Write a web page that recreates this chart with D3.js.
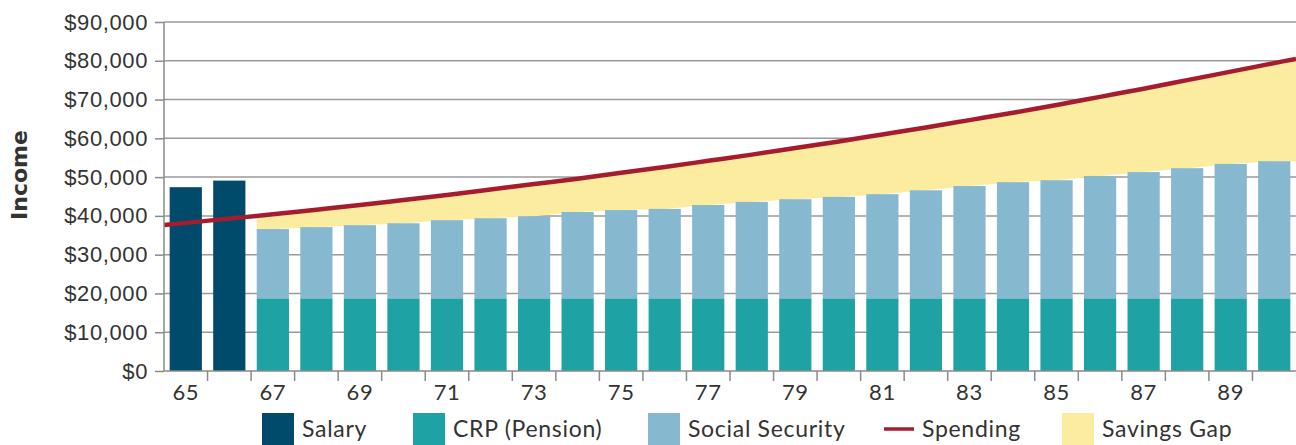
<!DOCTYPE html>
<html>
<head>
<meta charset="utf-8">
<script src="https://cdn.jsdelivr.net/npm/d3@7"></script>
<style>
  body { margin: 0; background: #fff; }
  svg { display: block; font-family: Lato, "Open Sans", sans-serif; }
  .tick text { fill: #333; }
</style>
</head>
<body>
<svg id="chart" width="1296" height="445"></svg>
<script>
var ages = [65, 66, 67, 68, 69, 70, 71, 72, 73, 74, 75, 76, 77, 78, 79, 80, 81, 82, 83, 84, 85, 86, 87, 88, 89, 90];
var salary = [47400, 49100, 0, 0, 0, 0, 0, 0, 0, 0, 0, 0, 0, 0, 0, 0, 0, 0, 0, 0, 0, 0, 0, 0, 0, 0];
var pension = [0, 0, 18700, 18700, 18700, 18700, 18700, 18700, 18700, 18700, 18700, 18700, 18700,
               18700, 18700, 18700, 18700, 18700, 18700, 18700, 18700, 18700, 18700, 18700, 18700, 18700];
var incomeTotal = [0, 0, 36600, 37100, 37600, 38100, 38900, 39400, 39900, 41000, 41500, 41800, 42800,
                   43600, 44300, 44900, 45600, 46600, 47700, 48700, 49200, 50300, 51300, 52300, 53400, 54100];
var spending = [38200, 39300, 40400, 41600, 42800, 44100, 45400, 46800, 48200, 49600, 51100, 52600, 54200,
                55800, 57500, 59200, 61000, 62800, 64700, 66600, 68600, 70700, 72800, 75000, 77200, 79400];
var yTicks = [0, 10000, 20000, 30000, 40000, 50000, 60000, 70000, 80000, 90000];
var legendItems = [
  { name: "Salary", color: "#004b6b", type: "box", x: 262 },
  { name: "CRP (Pension)", color: "#1fa2a3", type: "box", x: 413 },
  { name: "Social Security", color: "#86b9cf", type: "box", x: 648 },
  { name: "Spending", color: "#a61c2f", type: "line", x: 882 },
  { name: "Savings Gap", color: "#fcec9f", type: "box", x: 1062 }
];

var svg = d3.select("#chart"),
    margin = { top: 22, right: 0, bottom: 74, left: 164 },
    width = 1296 - margin.left - margin.right,
    height = 445 - margin.top - margin.bottom;

var g = svg.append("g").attr("transform", "translate(" + margin.left + "," + margin.top + ")");

var x = d3.scaleBand().domain(ages).range([0, width]).paddingInner(0.26).paddingOuter(0.13);
var y = d3.scaleLinear().domain([0, 90000]).range([height, 0]);

// gridlines
g.append("g")
  .selectAll("line")
  .data(yTicks.slice(1))
  .enter()
  .append("line")
    .attr("x1", 0)
    .attr("x2", width)
    .attr("y1", function (d) { return y(d); })
    .attr("y2", function (d) { return y(d); })
    .attr("stroke", "#9a9a9a")
    .attr("stroke-width", 1.5);

var cx = function (i) { return x(ages[i]) + x.bandwidth() / 2; };
var step = x.step();

// savings gap area, from the left edge of the first pension bar to the right edge
var gap = [];
ages.forEach(function (a, i) {
  if (incomeTotal[i] > 0) gap.push({ px: cx(i), lo: incomeTotal[i], hi: spending[i] });
});
var last = spending.length - 1;
gap.unshift({ px: x(ages[2]), lo: incomeTotal[2], hi: spending[2] - (spending[3] - spending[2]) * (x.bandwidth() / 2) / step });
gap.push({ px: width, lo: incomeTotal[last],
           hi: spending[last] + (spending[last] - spending[last - 1]) * (width - cx(last)) / step });

g.append("path")
  .datum(gap)
  .attr("fill", "#fcec9f")
  .attr("d", d3.area()
    .x(function (d) { return d.px; })
    .y0(function (d) { return y(d.lo); })
    .y1(function (d) { return y(d.hi); }));

// bars
var bars = g.append("g");
ages.forEach(function (a, i) {
  if (salary[i] > 0) {
    bars.append("rect").attr("x", x(a)).attr("width", x.bandwidth())
      .attr("y", y(salary[i])).attr("height", y(0) - y(salary[i])).attr("fill", "#004b6b");
  }
  if (incomeTotal[i] > 0) {
    bars.append("rect").attr("x", x(a)).attr("width", x.bandwidth())
      .attr("y", y(incomeTotal[i])).attr("height", y(pension[i]) - y(incomeTotal[i])).attr("fill", "#86b9cf");
    bars.append("rect").attr("x", x(a)).attr("width", x.bandwidth())
      .attr("y", y(pension[i])).attr("height", y(0) - y(pension[i])).attr("fill", "#1fa2a3");
  }
});

// spending line, stretched to both plot edges
var linePts = ages.map(function (a, i) { return [cx(i), spending[i]]; });
linePts.unshift([0, spending[0] - (spending[1] - spending[0]) * cx(0) / step]);
linePts.push([width, spending[last] + (spending[last] - spending[last - 1]) * (width - cx(last)) / step]);

g.append("path")
  .datum(linePts)
  .attr("fill", "none")
  .attr("stroke", "#a61c2f")
  .attr("stroke-width", 4.5)
  .attr("d", d3.line().x(function (d) { return d[0]; }).y(function (d) { return y(d[1]); }).curve(d3.curveMonotoneX));

// y axis
var yAxis = g.append("g")
  .call(d3.axisLeft(y).tickValues(yTicks).tickSize(9).tickPadding(7)
    .tickFormat(function (d) { return "$" + d3.format(",")(d); }));
yAxis.select(".domain").attr("stroke", "#8a8a8a").attr("stroke-width", 1.5).attr("d", "M0,0V" + height);
yAxis.selectAll(".tick line").attr("stroke", "#8a8a8a").attr("stroke-width", 1.5);
yAxis.selectAll(".tick text").style("font-size", "22px").style("letter-spacing", "0.6px");

// x axis: ticks on band boundaries, labels on odd ages
var xa = g.append("g").attr("transform", "translate(0," + height + ")");
xa.append("line").attr("x1", 0).attr("x2", width).attr("stroke", "#8a8a8a").attr("stroke-width", 1.5);
xa.selectAll(".bt")
  .data(ages.slice(1))
  .enter()
  .append("line")
    .attr("x1", function (d) { return x(d) - x.step() * x.paddingInner() / 2; })
    .attr("x2", function (d) { return x(d) - x.step() * x.paddingInner() / 2; })
    .attr("y1", 0).attr("y2", 10)
    .attr("stroke", "#8a8a8a").attr("stroke-width", 1.5);
xa.selectAll(".lbl")
  .data(ages.filter(function (d) { return d % 2 === 1; }))
  .enter()
  .append("text")
    .attr("x", function (d) { return x(d) + x.bandwidth() / 2; })
    .attr("y", 29)
    .attr("text-anchor", "middle")
    .attr("fill", "#333")
    .style("font-size", "22px")
    .style("letter-spacing", "0.6px")
    .text(function (d) { return d; });

// y title
svg.append("text")
  .attr("transform", "translate(27," + 175 + ") rotate(-90)")
  .attr("text-anchor", "middle")
  .attr("fill", "#333")
  .style("font-family", "'DejaVu Sans', sans-serif")
  .style("font-size", "22px")
  .style("font-weight", "bold")
  .text("Income");

// legend
var legend = svg.append("g").attr("transform", "translate(0,413)");
legendItems.forEach(function (d) {
  if (d.type === "box") {
    legend.append("rect").attr("x", d.x).attr("y", 0).attr("width", 32).attr("height", 32).attr("fill", d.color);
  } else {
    legend.append("line").attr("x1", d.x + 2).attr("x2", d.x + 32).attr("y1", 16).attr("y2", 16)
      .attr("stroke", d.color).attr("stroke-width", 3.5);
  }
  legend.append("text").attr("x", d.x + 40).attr("y", 24).attr("fill", "#333")
    .style("font-size", "23px").style("letter-spacing", "0.7px").text(d.name);
});
</script>
</body>
</html>
